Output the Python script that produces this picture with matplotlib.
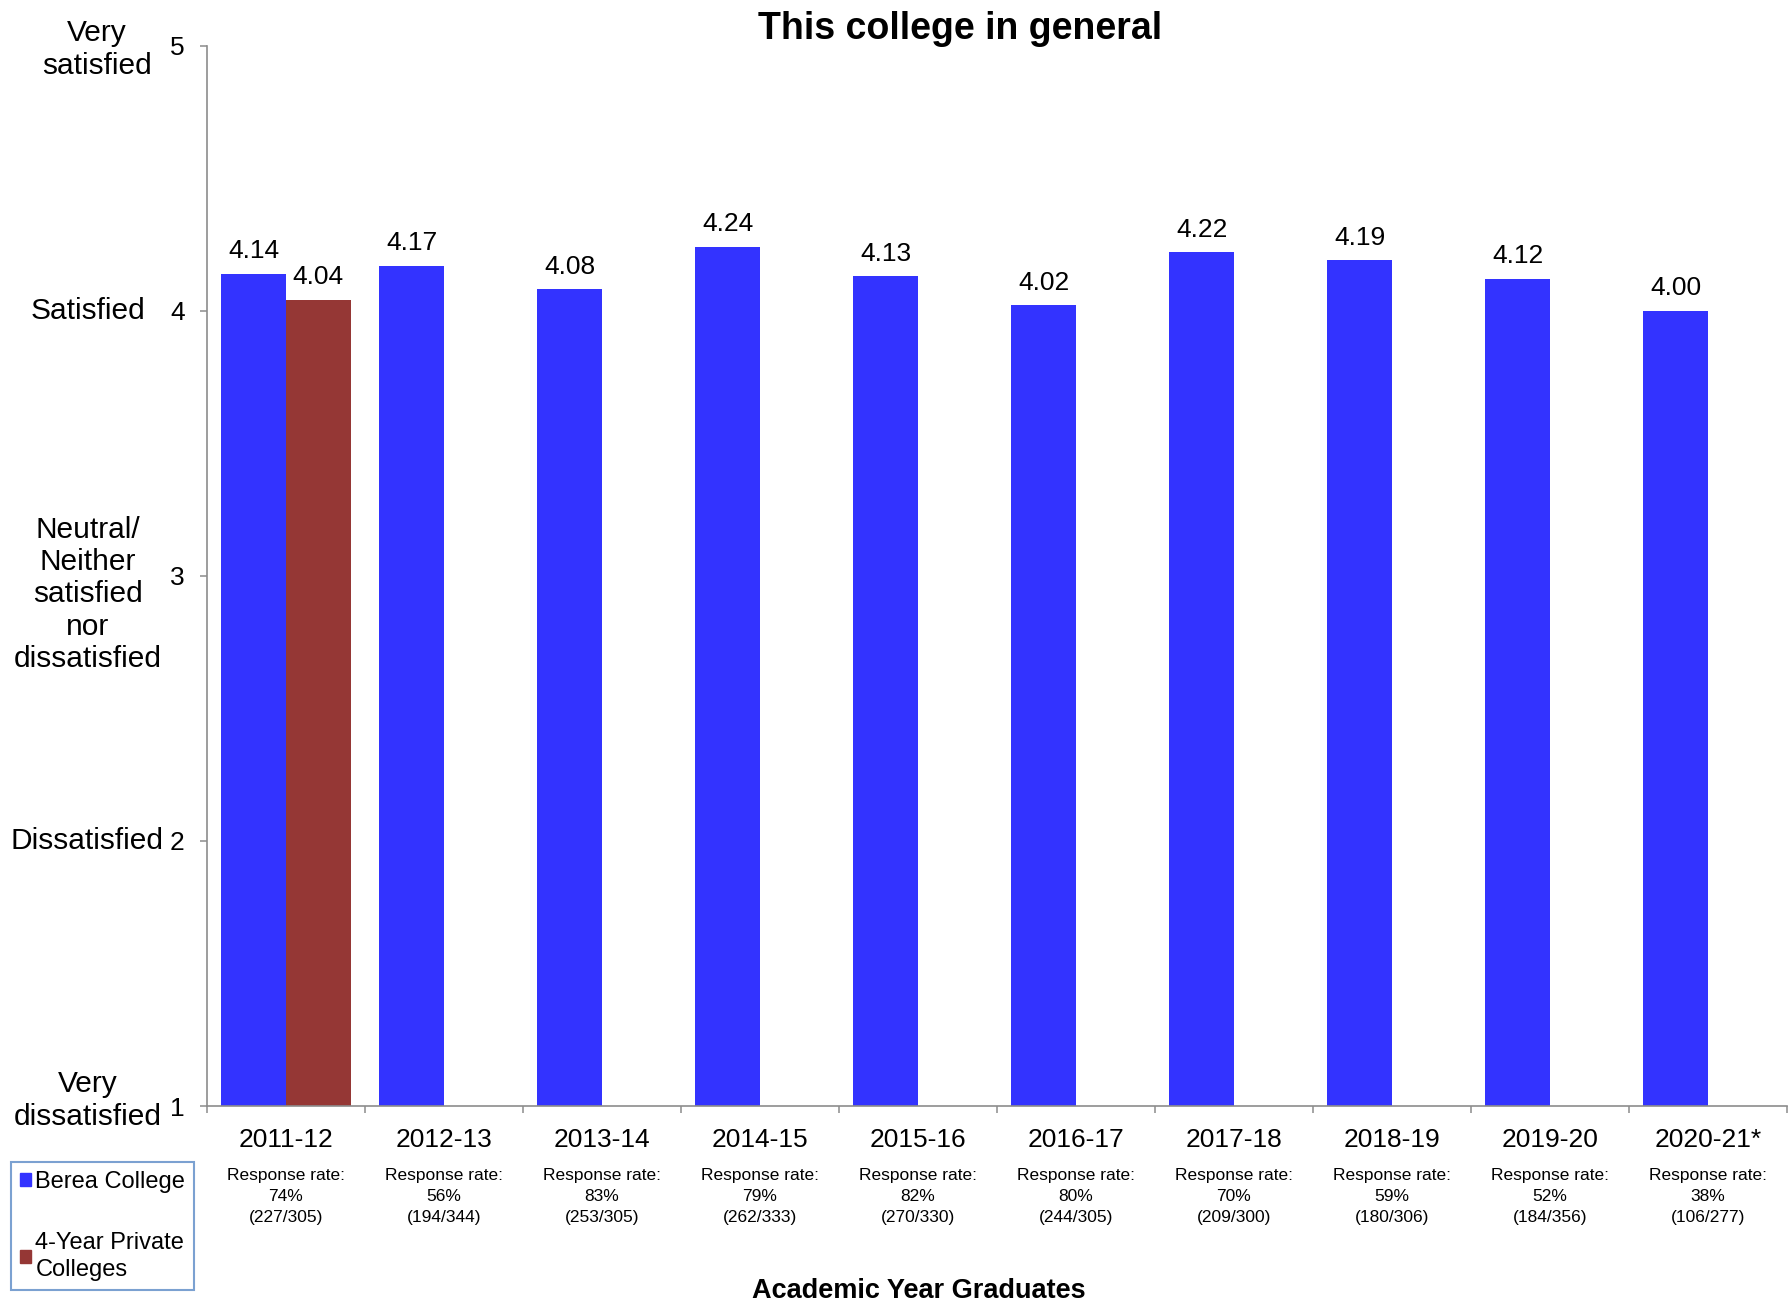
"""Satisfaction with 'This college in general' by graduating class."""

import matplotlib
matplotlib.use("Agg")
import matplotlib.pyplot as plt
import matplotlib.transforms as mtransforms
from matplotlib.patches import Patch
import numpy as np

# ── data ──────────────────────────────────────────────────────
years = ["2011-12", "2012-13", "2013-14", "2014-15", "2015-16",
         "2016-17", "2017-18", "2018-19", "2019-20", "2020-21*"]
berea = [4.14, 4.17, 4.08, 4.24, 4.13, 4.02, 4.22, 4.19, 4.12, 4.00]
private4yr = [4.04, np.nan, np.nan, np.nan, np.nan,
              np.nan, np.nan, np.nan, np.nan, np.nan]
resp_pct = [74, 56, 83, 79, 82, 80, 70, 59, 52, 38]
resp_n = [227, 194, 253, 262, 270, 244, 209, 180, 184, 106]
resp_total = [305, 344, 305, 333, 330, 305, 300, 306, 356, 277]
scale_vals = [5, 4, 3, 2, 1]
scale_names = ["Very\nsatisfied", "Satisfied",
               "Neutral/\nNeither\nsatisfied\nnor\ndissatisfied",
               "Dissatisfied", "Very\ndissatisfied"]

# ── style ─────────────────────────────────────────────────────
BLUE = "#3333FF"
RED = "#953735"
AXIS_GREY = "#8C8C8C"
LEGEND_EDGE = "#5A8AC6"

plt.rcParams["font.family"] = "Liberation Sans"

W, H = 1790, 1302
fig = plt.figure(figsize=(W / 100, H / 100), dpi=100)
ax = fig.add_axes([207 / W, 1 - 1106 / H, (1787 - 207) / W, (1106 - 45.5) / H])

x = np.arange(len(years))
bw = 0.41
ax.bar(x - bw / 2, np.array(berea) - 1, bw, bottom=1, color=BLUE)
ax.bar(x + bw / 2, np.array(private4yr) - 1, bw, bottom=1, color=RED)

# value labels
for xs, vals in ((x - bw / 2, berea), (x + bw / 2, private4yr)):
    for xi, v in zip(xs, vals):
        if np.isnan(v):
            continue
        ax.text(xi, v + 0.04, f"{v:.2f}", ha="center", va="bottom", fontsize=19)

ax.set_xlim(-0.5, len(years) - 0.5)
ax.set_ylim(1, 5)
ax.set_yticks(scale_vals)
ax.tick_params(axis="y", length=5, width=1.1, color=AXIS_GREY, pad=11, labelsize=19)

ax.set_xticks(x)
ax.set_xticklabels(years, fontsize=19)
ax.set_xticks(np.arange(len(years) + 1) - 0.5, minor=True)
ax.tick_params(axis="x", which="major", length=0, pad=16)
ax.tick_params(axis="x", which="minor", length=5, width=1.1, color=AXIS_GREY)

for side in ("top", "right"):
    ax.spines[side].set_visible(False)
for side in ("left", "bottom"):
    ax.spines[side].set_color(AXIS_GREY)
    ax.spines[side].set_linewidth(1.2)

# response-rate notes under each year
xt = ax.get_xaxis_transform()
for xi, p, n, t in zip(x, resp_pct, resp_n, resp_total):
    ax.text(xi, -0.058, f"Response rate:\n{p}%\n({n}/{t})", transform=xt,
            ha="center", va="top", fontsize=12.5, linespacing=1.5)

# verbal scale labels on the left
lt = mtransforms.blended_transform_factory(fig.transFigure, ax.transData)
label_y = [4.985, 4.0, 2.93, 2.0, 1.02]
label_x = [97, 88, 88, 87, 88]
for name, yv, xp in zip(scale_names, label_y, label_x):
    ax.text(xp / W, yv, name, transform=lt, ha="center", va="center",
            fontsize=21.5, linespacing=1.2, clip_on=False)

fig.text(960 / W, 1 - 39 / H, "This college in general", ha="center", va="baseline",
         fontsize=27, fontweight="bold")
fig.text(919 / W, 1 - 1298 / H, "Academic Year Graduates", ha="center", va="baseline",
         fontsize=19.5, fontweight="bold")

handles = [Patch(color=BLUE, label="Berea College"),
           Patch(color=RED, label="4-Year Private\nColleges")]
leg = fig.legend(handles=handles, loc="upper left", bbox_to_anchor=(11 / W, 1 - 1162 / H),
                 frameon=True, fancybox=False, handlelength=0.45, handleheight=0.45,
                 handletextpad=0.2, labelspacing=1.65, borderpad=0.38, borderaxespad=0,
                 prop={"size": 17})
for txt in leg.get_texts():
    txt.set_linespacing(1.3)
leg.get_frame().set_edgecolor(LEGEND_EDGE)
leg.get_frame().set_linewidth(1.5)

fig.savefig("out.png", dpi=100, facecolor="white")
